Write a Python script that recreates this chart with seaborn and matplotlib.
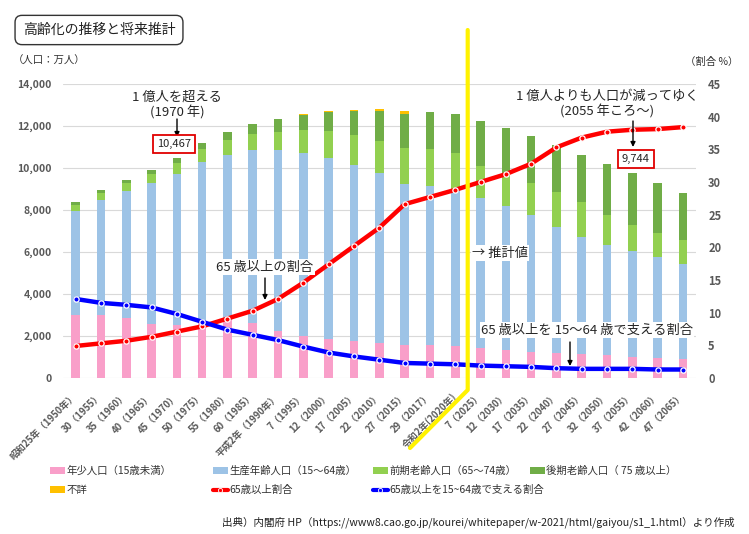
import numpy as np
import pandas as pd
import matplotlib
matplotlib.use("Agg")
import matplotlib.pyplot as plt
from matplotlib.lines import Line2D
from matplotlib.patches import Patch
import seaborn as sns

# データ（人口：万人、割合：%）
labels = ['昭和25年（1950年）', '30（1955）', '35（1960）', '40（1965）', '45（1970）',
          '50（1975）', '55（1980）', '60（1985）', '平成2年（1990年）', '7（1995）',
          '12（2000）', '17（2005）', '22（2010）', '27（2015）', '29（2017）',
          '令和2年(2020年)', '7（2025）', '12（2030）', '17（2035）', '22（2040）',
          '27（2045）', '32（2050）', '37（2055）', '42（2060）', '47（2065）']
young = [2979, 2980, 2843, 2553, 2515, 2722, 2751, 2603, 2249, 2001, 1847, 1752, 1680,
         1589, 1559, 1503, 1407, 1321, 1246, 1194, 1138, 1077, 1012, 951, 898]
working = [4966, 5473, 6047, 6744, 7212, 7581, 7883, 8251, 8590, 8716, 8622, 8409, 8103,
           7629, 7596, 7449, 7170, 6875, 6494, 5978, 5584, 5275, 5028, 4793, 4529]
early_old = [309, 338, 376, 416, 516, 606, 699, 776, 892, 1109, 1301, 1407, 1517,
             1752, 1767, 1747, 1497, 1428, 1522, 1681, 1643, 1424, 1258, 1153, 1133]
late_old = [107, 139, 163, 208, 224, 284, 366, 471, 597, 717, 900, 1160, 1407,
            1613, 1748, 1872, 2180, 2288, 2260, 2239, 2277, 2417, 2446, 2387, 2248]
unknown = [0, 0, 0, 0, 0, 0, 0, 0, 20, 20, 25, 50, 100, 126, 0, 0,
           0, 0, 0, 0, 0, 0, 0, 0, 0]
ratio_65 = [4.9, 5.3, 5.7, 6.3, 7.1, 7.9, 9.1, 10.3, 12.1, 14.6, 17.4, 20.2, 23.0,
            26.6, 27.7, 28.8, 30.0, 31.2, 32.8, 35.3, 36.8, 37.7, 38.0, 38.1, 38.4]
support = [12.1, 11.5, 11.2, 10.8, 9.8, 8.6, 7.4, 6.6, 5.8, 4.8, 3.9, 3.3, 2.8,
           2.3, 2.2, 2.1, 1.9, 1.8, 1.7, 1.5, 1.4, 1.4, 1.4, 1.3, 1.3]

W, H = 749, 534
JP = ['Noto Sans CJK JP', 'DejaVu Sans']

C_YOUNG = '#F99FC9'
C_WORK = '#9DC3E6'
C_EARLY = '#92D050'
C_LATE = '#70AD47'
C_UNK = '#FFC000'
C_RED = '#FF0000'
C_BLUE = '#0000FF'


def fp(x, y):
    """画像ピクセル（左上原点）→ figure fraction"""
    return (x / W, 1 - y / H)


sns.set_theme(style="white")
plt.rcParams['font.family'] = JP

df = pd.DataFrame({'label': labels, 'young': young, 'working': working,
                   'early': early_old, 'late': late_old, 'unknown': unknown})
df['c1'] = df['young']
df['c2'] = df['c1'] + df['working']
df['c3'] = df['c2'] + df['early']
df['c4'] = df['c3'] + df['late']
df['c5'] = df['c4'] + df['unknown']

fig = plt.figure(figsize=(W / 100, H / 100), dpi=100)
ax = fig.add_axes([63 / W, 1 - 378 / H, (695.6 - 63) / W, (378 - 84) / H])

# 積み上げ棒（上の段から順に重ねる）
for col, color in [('c5', C_UNK), ('c4', C_LATE), ('c3', C_EARLY),
                   ('c2', C_WORK), ('c1', C_YOUNG)]:
    sns.barplot(data=df, x='label', y=col, order=labels, color=color,
                width=0.34, saturation=1, ax=ax, linewidth=0)

ax.set_ylim(0, 14000)
ax.set_xlim(-0.5, len(labels) - 0.5)
ax.set_yticks(range(0, 14001, 2000))
ax.set_yticklabels([f'{v:,}' for v in range(0, 14001, 2000)],
                   fontsize=7.5, color='#595959', fontweight='bold')
ax.set_xticks(range(len(labels)))
ax.set_xticklabels(labels, rotation=45, ha='right', va='center',
                   rotation_mode='anchor', fontsize=6.8, color='#595959',
                   fontweight='bold')
ax.tick_params(axis='both', length=0)
ax.tick_params(axis='x', pad=12)
ax.tick_params(axis='y', pad=8)
ax.set_xlabel('')
ax.set_ylabel('')
ax.yaxis.grid(True, color='#D9D9D9', linewidth=0.8)
ax.set_axisbelow(True)
for s in ax.spines.values():
    s.set_visible(False)

# 割合の折れ線（右軸）
ax2 = ax.twinx()
xpos = np.arange(len(labels))
sns.lineplot(x=xpos, y=ratio_65, ax=ax2, color=C_RED, linewidth=3.2,
             marker='o', markersize=3.8, markerfacecolor=C_RED,
             markeredgecolor='white', markeredgewidth=0.9)
sns.lineplot(x=xpos, y=support, ax=ax2, color=C_BLUE, linewidth=3.2,
             marker='o', markersize=3.8, markerfacecolor=C_BLUE,
             markeredgecolor='white', markeredgewidth=0.9)
ax2.set_ylim(0, 45)
ax2.set_xlim(-0.5, len(labels) - 0.5)
ax2.set_yticks(range(0, 46, 5))
ax2.set_yticklabels([str(v) for v in range(0, 46, 5)], fontsize=8,
                    color='#595959', fontweight='bold')
ax2.tick_params(axis='y', length=0, pad=9)
ax2.set_ylabel('')
ax2.grid(False)
for s in ax2.spines.values():
    s.set_visible(False)

# 推計値の区切り線
sep = Line2D([fp(467.7, 30)[0], fp(467.7, 390)[0], fp(410, 448)[0]],
             [fp(467.7, 30)[1], fp(467.7, 390)[1], fp(410, 448)[1]],
             transform=fig.transFigure, color='#FFF200', linewidth=3, zorder=5)
fig.add_artist(sep)

# タイトル
fig.text(*fp(99, 30), '高齢化の推移と将来推計', fontsize=10, ha='center', va='center',
         color='#222222',
         bbox=dict(boxstyle='round,pad=0.55,rounding_size=0.5', facecolor='white',
                   edgecolor='#333333', linewidth=1))
fig.text(*fp(13, 61), '（人口：万人）', fontsize=7.5, ha='left', va='center', color='#333333')
fig.text(*fp(738, 62), '（割合 %）', fontsize=7.5, ha='right', va='center', color='#333333')

# 注釈
arrow = dict(arrowstyle='-|>', color='black', lw=1, mutation_scale=7, shrinkA=0, shrinkB=0)

fig.text(*fp(177, 105), '1 億人を超える\n(1970 年)', fontsize=9.5, ha='center',
         va='center', linespacing=1.1, zorder=6)
fig.add_artist(plt.Annotation('', xy=fp(177, 137), xytext=fp(177, 119),
                              xycoords='figure fraction', arrowprops=arrow))
fig.text(*fp(174, 144), f'{df["c5"][4]:,}', fontsize=8, ha='center', va='center',
         zorder=6, bbox=dict(boxstyle='square,pad=0.35', facecolor='white',
                             edgecolor='#E00000', linewidth=1.3))

fig.text(*fp(607, 104), '1 億人よりも人口が減ってゆく\n(2055 年ころ〜)', fontsize=9.5,
         ha='center', va='center', linespacing=1.1, zorder=6)
fig.add_artist(plt.Annotation('', xy=fp(633, 147), xytext=fp(633, 121),
                              xycoords='figure fraction', arrowprops=arrow))
fig.text(*fp(636, 159), f'{df["c5"][22]:,}', fontsize=8, ha='center', va='center',
         zorder=6, bbox=dict(boxstyle='square,pad=0.35', facecolor='white',
                             edgecolor='#E00000', linewidth=1.3))

fig.text(*fp(265, 267), '65 歳以上の割合', fontsize=9.5, ha='center', va='center',
         zorder=6, bbox=dict(boxstyle='square,pad=0.1', facecolor='white', edgecolor='none'))
fig.add_artist(plt.Annotation('', xy=fp(265, 300), xytext=fp(265, 278),
                              xycoords='figure fraction', arrowprops=arrow))

fig.text(*fp(472, 253), '→ 推計値', fontsize=9.5, ha='left', va='center',
         zorder=6, bbox=dict(boxstyle='square,pad=0.1', facecolor='white', edgecolor='none'))

fig.text(*fp(587, 330), '65 歳以上を 15〜64 歳で支える割合', fontsize=9.5, ha='center',
         va='center', zorder=6,
         bbox=dict(boxstyle='square,pad=0.1', facecolor='white', edgecolor='none'))
fig.add_artist(plt.Annotation('', xy=fp(570, 366), xytext=fp(570, 342),
                              xycoords='figure fraction', arrowprops=arrow))

# 凡例（項目ごとに配置）
def bar_handle(c):
    return Patch(facecolor=c, edgecolor='none')


def line_handle(c):
    return Line2D([], [], color=c, linewidth=3, marker='o', markersize=3,
                  markerfacecolor=c, markeredgecolor='white', markeredgewidth=0.6)


entries = [
    (bar_handle(C_YOUNG), '年少人口（15歳未満）', 50, 471),
    (bar_handle(C_WORK), '生産年齢人口（15～64歳）', 213, 471),
    (bar_handle(C_EARLY), '前期老齢人口（65～74歳）', 373, 471),
    (bar_handle(C_LATE), '後期老齢人口（ 75 歳以上）', 530, 471),
    (bar_handle(C_UNK), '不詳', 50, 490),
    (line_handle(C_RED), '65歳以上割合', 213, 490),
    (line_handle(C_BLUE), '65歳以上を15~64歳で支える割合', 373, 490),
]
for h, lab, x, y in entries:
    fig.legend(handles=[h], labels=[lab], loc='center left', bbox_to_anchor=fp(x, y),
               frameon=False, fontsize=7.5, handlelength=1.4, handleheight=0.6,
               handletextpad=0.15, borderpad=0, borderaxespad=0,
               labelcolor='#333333')

fig.text(*fp(735, 522),
         '出典）内閣府 HP（https://www8.cao.go.jp/kourei/whitepaper/w-2021/html/gaiyou/s1_1.html）より作成',
         fontsize=7.6, ha='right', va='center', color='#222222')

fig.savefig('out.png', dpi=100)
